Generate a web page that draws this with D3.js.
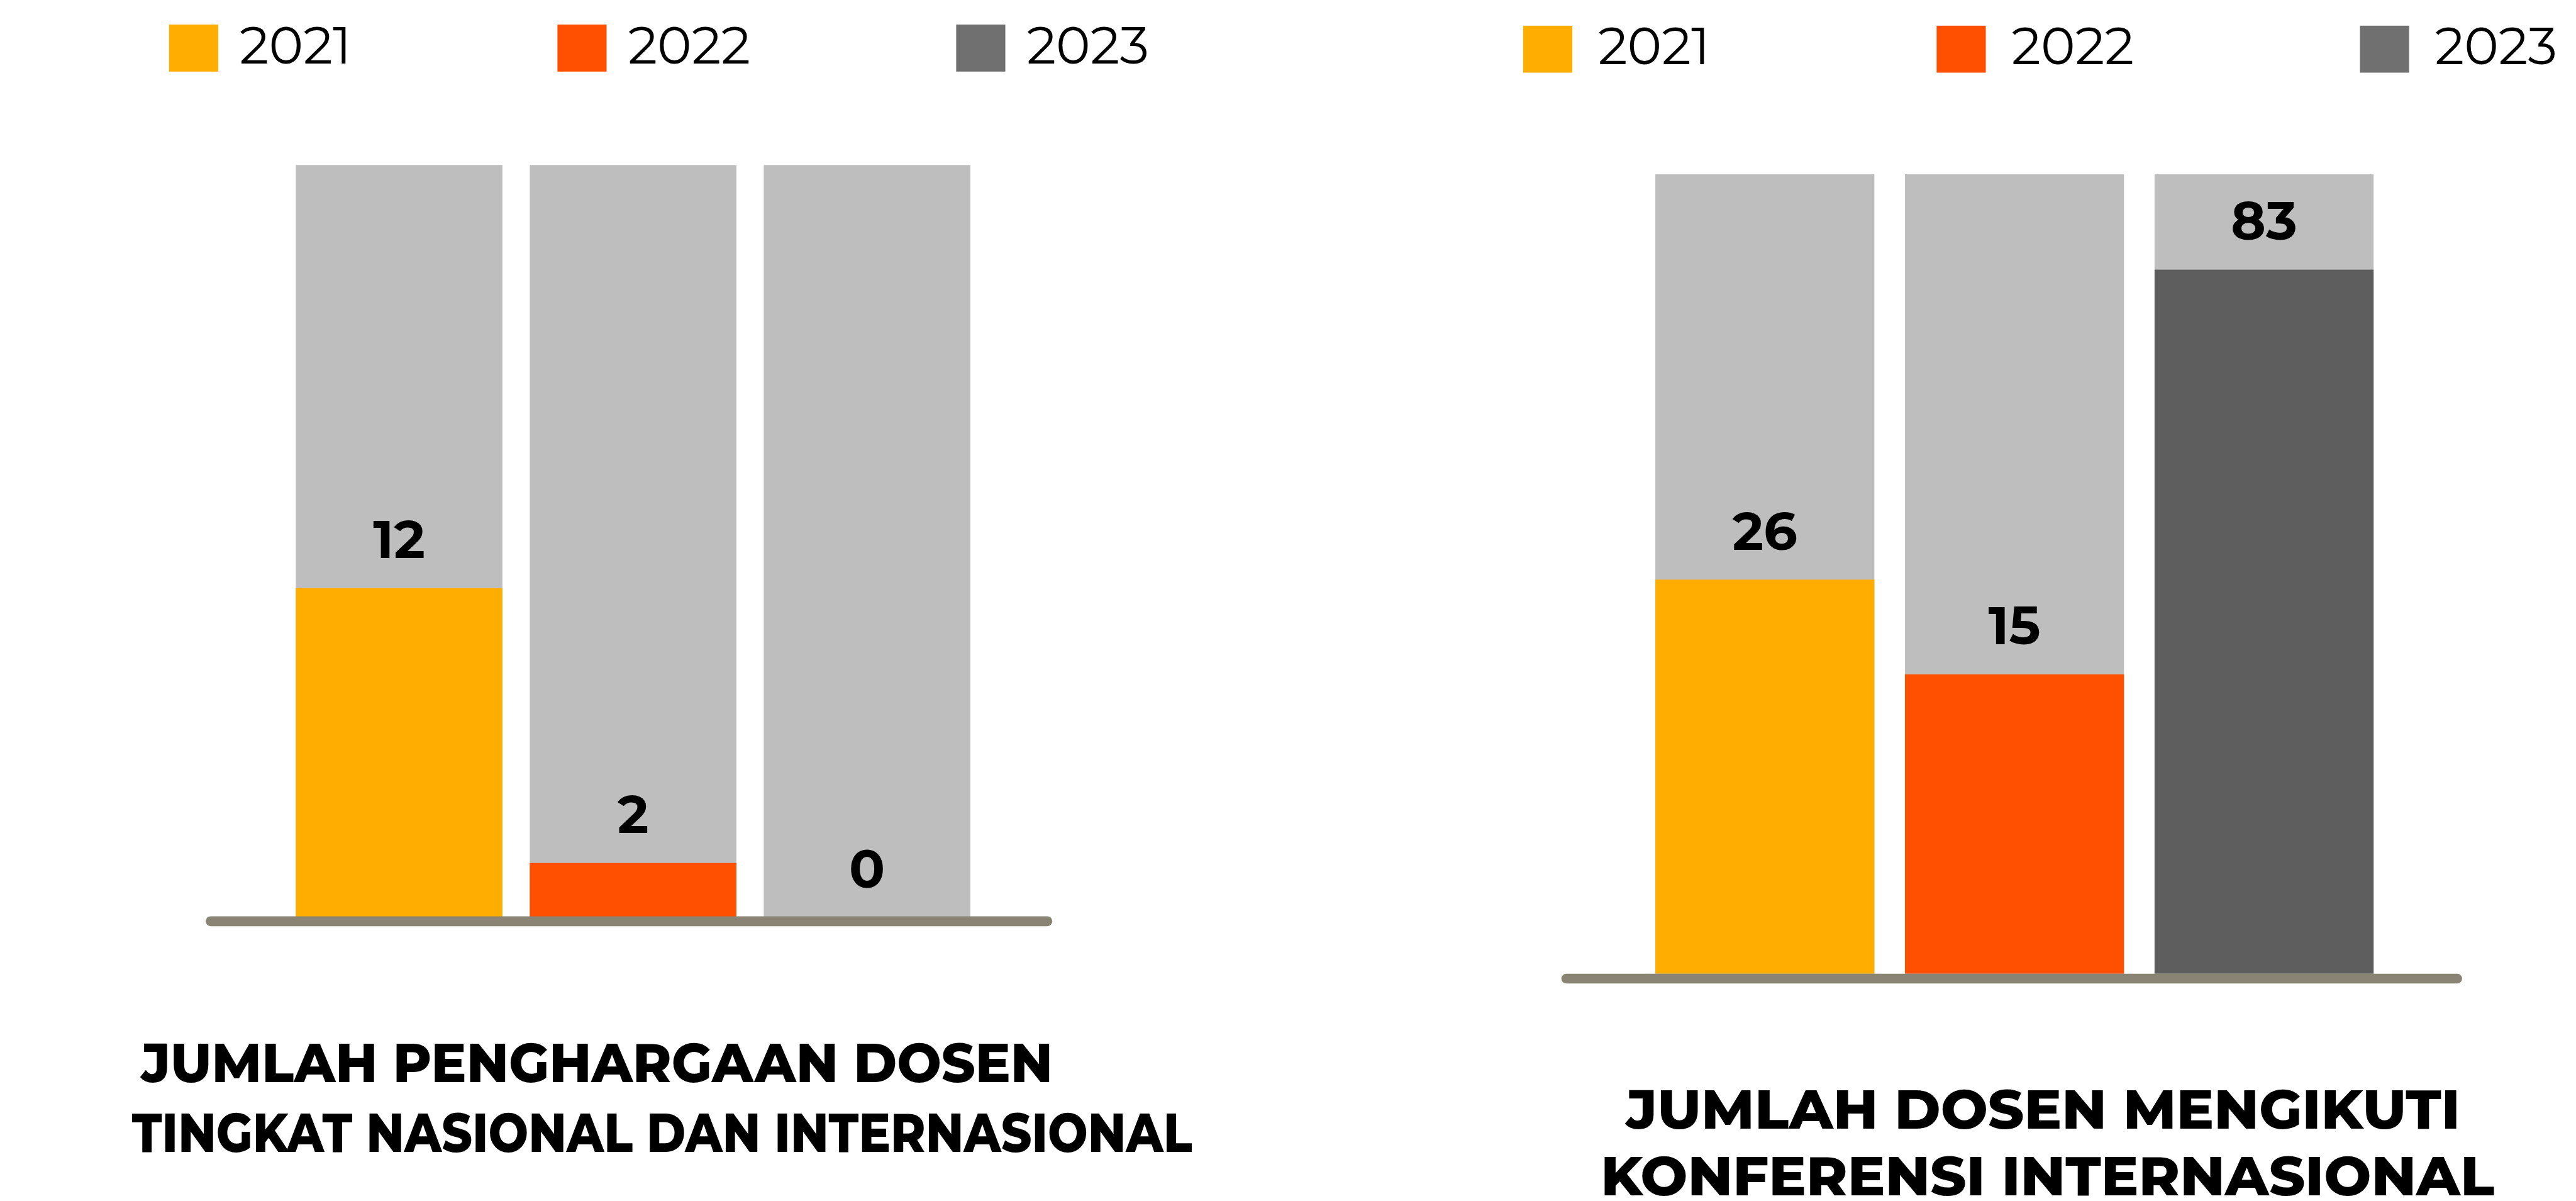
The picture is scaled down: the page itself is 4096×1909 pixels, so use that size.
<html>
<head>
<title>Dosen</title>
<script type="text/javascript" src="https://cdn.jsdelivr.net/npm/d3@7"></script>
<style>
  * { margin: 0; padding: 0; }
  body { background: #ffffff; overflow: hidden; }
  #wrap { width: 4096px; height: 1909px; }
  text { font-family: Montserrat, Inter, "Noto Sans", sans-serif; fill: #000; }
</style>
</head>
<body>
<div id="wrap"></div>
<script type="text/javascript">
  // data
  var years = ['2021', '2022', '2023'];
  var penghargaan = [12, 2, 0];
  var konferensi = [26, 15, 83];
  var title1 = ['JUMLAH PENGHARGAAN DOSEN', 'TINGKAT NASIONAL DAN INTERNASIONAL'];
  var title2 = ['JUMLAH DOSEN MENGIKUTI', 'KONFERENSI INTERNASIONAL'];

  var yearColor = {'2021': '#ffae00', '2022': '#ff4f00', '2023': '#5e5e5e'};
  var legendColor = {'2021': '#ffae00', '2022': '#ff4f00', '2023': '#707070'};

  // drawn in reference units, viewBox scales to the window (0.868)
  var W = 4715, H = 2198;
  var svg = d3.select('#wrap').append('svg')
      .attr('width', 4096)
      .attr('height', 1909)
      .attr('viewBox', '0 0 ' + W + ' ' + H);

  var drawPanel = function(p) {
    var g = svg.append('g');

    var x = d3.scaleBand().domain(years)
        .range([p.left, p.right])
        .paddingInner(p.pad).paddingOuter(0);
    // the infographic squeezes the big value, so the second panel uses a sqrt scale
    var y = d3.scalePow().exponent(p.exp).domain([0, p.max]).range([p.bottom, p.top]);

    // grey full-height backgrounds
    g.selectAll('rect.bg')
        .data(years)
      .enter().append('rect')
        .attr('class', 'bg')
        .attr('x', function(d) { return x(d); })
        .attr('y', p.top)
        .attr('width', x.bandwidth())
        .attr('height', p.bottom - p.top)
        .attr('fill', '#bebebe');

    var rows = years.map(function(d, i) { return {year: d, value: p.values[i]}; });

    g.selectAll('rect.val')
        .data(rows)
      .enter().append('rect')
        .attr('class', 'val')
        .attr('x', function(d) { return x(d.year); })
        .attr('y', function(d) { return y(d.value); })
        .attr('width', x.bandwidth())
        .attr('height', function(d) { return p.bottom - y(d.value); })
        .attr('fill', function(d) { return yearColor[d.year]; });

    g.selectAll('text.val')
        .data(rows)
      .enter().append('text')
        .attr('class', 'val')
        .attr('x', function(d) { return x(d.year) + x.bandwidth() / 2; })
        .attr('y', function(d) { return y(d.value) - p.labelGap; })
        .attr('text-anchor', 'middle')
        .attr('font-size', 97)
        .attr('font-weight', 700)
        .text(function(d) { return d.value; });

    // base line
    g.append('path')
        .attr('d', 'M' + (p.left - p.lineOut[0]) + ',' + p.lineY + 'H' + (p.right + p.lineOut[1]))
        .attr('stroke', '#898474')
        .attr('stroke-width', 18)
        .attr('stroke-linecap', 'round');

    // legend
    var lg = g.selectAll('g.leg')
        .data(years)
      .enter().append('g')
        .attr('class', 'leg')
        .attr('transform', function(d, i) { return 'translate(' + p.legendX[i] + ',' + p.legendY + ')'; });
    lg.append('rect')
        .attr('width', 90).attr('height', 86)
        .attr('fill', function(d) { return legendColor[d]; });
    lg.append('text')
        .attr('x', p.legendTextDx)
        .attr('y', 71)
        .attr('font-size', 95)
        .attr('font-weight', 400)
        .text(function(d) { return d; });

    // title
    g.selectAll('text.title')
        .data(p.title)
      .enter().append('text')
        .attr('class', 'title')
        .attr('x', function(d, i) { return p.titleX[i]; })
        .attr('y', function(d, i) { return p.titleY[i]; })
        .attr('text-anchor', p.titleAnchor)
        .attr('font-size', 99)
        .attr('font-weight', 800)
        .attr('textLength', function(d, i) { return p.titleLen[i]; })
        .attr('lengthAdjust', 'spacingAndGlyphs')
        .text(function(d) { return d; });
  };

  drawPanel({
    values: penghargaan, max: 27.4, exp: 1,
    left: 541, right: 1776, pad: 0.117,
    top: 302, bottom: 1680, labelGap: 55,
    lineY: 1686, lineOut: [156, 141],
    legendX: [309, 1020, 1750], legendY: 45, legendTextDx: 129,
    title: title1, titleX: [258, 241], titleY: [1980, 2108],
    titleLen: [1669, 1941], titleAnchor: 'start'
  });

  drawPanel({
    values: konferensi, max: 107, exp: 0.5,
    left: 3030, right: 4345, pad: 0.1225,
    top: 319, bottom: 1782, labelGap: 55,
    lineY: 1791, lineOut: [163, 153],
    legendX: [2788, 3545, 4320], legendY: 47, legendTextDx: 137,
    title: title2, titleX: [3740, 3748], titleY: [2066, 2188],
    titleLen: [1527, 1636], titleAnchor: 'middle'
  });
</script>
</body>
</html>
